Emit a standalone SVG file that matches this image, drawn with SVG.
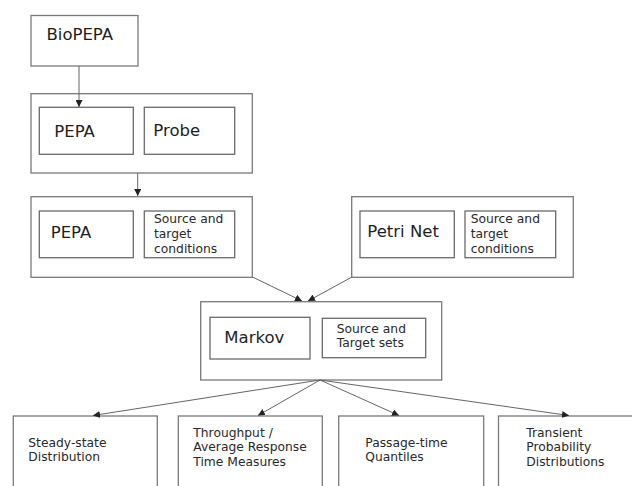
<svg xmlns="http://www.w3.org/2000/svg" width="632" height="486" viewBox="0 0 632 486">
<defs>
<style>
.box{fill:#fff;stroke:#7a7a7a;stroke-width:1.3}
.in{fill:#fff;stroke:#6a6a6a;stroke-width:1.3}
.big{font-family:"DejaVu Sans",sans-serif;font-size:16.5px;fill:#1e1e1e}
.sm{font-family:"DejaVu Sans",sans-serif;font-size:12.3px;fill:#2a2a2a}
.c{fill:none;stroke:#666;stroke-width:1}
</style>
<marker id="ah" viewBox="0 0 10 10" refX="10" refY="5" markerWidth="7" markerHeight="7" markerUnits="userSpaceOnUse" orient="auto">
<path d="M0,0 L10,5 L0,10 z" fill="#222"/>
</marker>
</defs>
<rect width="632" height="486" fill="#fff"/>
<g id="biopepa">
<rect class="box" x="31" y="15.5" width="107" height="50.5"/>
<text class="big" x="46.5" y="40">BioPEPA</text>
</g>
<g id="pepa-probe">
<rect class="box" x="31" y="93.7" width="221.3" height="79.3"/>
<rect class="in" x="39.3" y="107.3" width="94" height="47"/>
<text class="big" x="54.3" y="136.5">PEPA</text>
<rect class="in" x="144.3" y="107.3" width="90.4" height="47"/>
<text class="big" x="153.3" y="136">Probe</text>
</g>
<g id="pepa-conditions">
<rect class="box" x="31" y="196.7" width="221.3" height="80.6"/>
<rect class="in" x="39.3" y="211" width="94" height="46.7"/>
<text class="big" x="50.7" y="237.5">PEPA</text>
<rect class="in" x="144.3" y="211" width="90.4" height="46.7"/>
<text class="sm" x="154" y="223.3">Source and</text>
<text class="sm" x="154" y="238">target</text>
<text class="sm" x="154" y="253">conditions</text>
</g>
<g id="petri-conditions">
<rect class="box" x="351.7" y="196.7" width="221.6" height="80.6"/>
<rect class="in" x="360" y="211" width="94.3" height="46.7"/>
<text class="big" x="367.3" y="236.7">Petri Net</text>
<rect class="in" x="465" y="211" width="90.7" height="46.7"/>
<text class="sm" x="470.7" y="223">Source and</text>
<text class="sm" x="470.7" y="238">target</text>
<text class="sm" x="470.7" y="253">conditions</text>
</g>
<g id="markov">
<rect class="box" x="200.7" y="301.7" width="241" height="78.3"/>
<rect class="in" x="210" y="317.3" width="100" height="41.7"/>
<text class="big" x="224.3" y="343.3">Markov</text>
<rect class="in" x="322.3" y="318.3" width="103.4" height="39.4"/>
<text class="sm" x="336.7" y="332.7">Source and</text>
<text class="sm" x="336.7" y="346.7">Target sets</text>
</g>
<g id="steady-state">
<rect class="box" x="13.3" y="416" width="144" height="80"/>
<text class="sm" x="28.3" y="446.7">Steady-state</text>
<text class="sm" x="28.3" y="460.7">Distribution</text>
</g>
<g id="throughput">
<rect class="box" x="178.3" y="416" width="144" height="80"/>
<text class="sm" x="193.3" y="436.7">Throughput /</text>
<text class="sm" x="193.3" y="451">Average Response</text>
<text class="sm" x="193.3" y="465.7">Time Measures</text>
</g>
<g id="passage-time">
<rect class="box" x="338.7" y="416" width="145" height="80"/>
<text class="sm" x="365.3" y="446.7">Passage-time</text>
<text class="sm" x="365.3" y="460.7">Quantiles</text>
</g>
<g id="transient">
<rect class="box" x="498.5" y="416" width="145" height="80"/>
<text class="sm" x="526.3" y="436.7">Transient</text>
<text class="sm" x="526.3" y="451">Probability</text>
<text class="sm" x="526.3" y="465.7">Distributions</text>
</g>
<g id="connectors">
<line class="c" x1="79" y1="66" x2="79" y2="107" marker-end="url(#ah)"/>
<line class="c" x1="137.7" y1="173" x2="137.7" y2="196" marker-end="url(#ah)"/>
<line class="c" x1="252.5" y1="277" x2="302" y2="301" marker-end="url(#ah)"/>
<line class="c" x1="352" y1="277" x2="308" y2="301" marker-end="url(#ah)"/>
<line class="c" x1="320" y1="380" x2="93" y2="415.5" marker-end="url(#ah)"/>
<line class="c" x1="320" y1="380" x2="258" y2="415.5" marker-end="url(#ah)"/>
<line class="c" x1="320" y1="380" x2="399" y2="415.5" marker-end="url(#ah)"/>
<line class="c" x1="320" y1="380" x2="569" y2="415.5" marker-end="url(#ah)"/>
</g>
</svg>
